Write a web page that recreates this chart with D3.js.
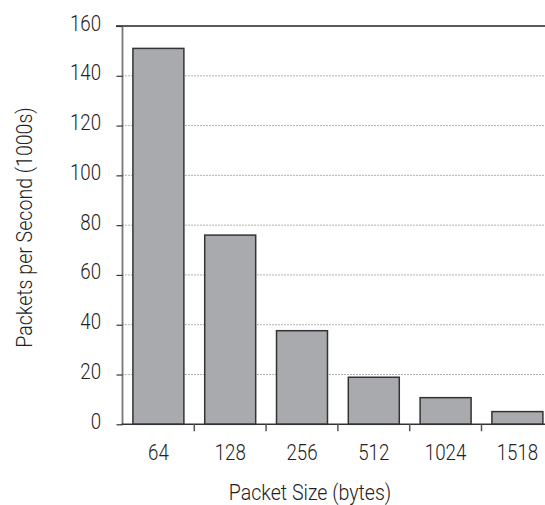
<!DOCTYPE html>
<html>
<head>
<meta charset="utf-8">
<script src="https://cdn.jsdelivr.net/npm/d3@7"></script>
<style>
  html, body { margin: 0; padding: 0; background: #fff; }
  svg { display: block; }
  text { font-family: Roboto, "Liberation Sans", sans-serif; font-weight: 300; fill: #222; }
</style>
</head>
<body>
<svg id="chart" width="545" height="505"></svg>
<script>
const categories = ["64", "128", "256", "512", "1024", "1518"];
const values = [151, 76, 37.6, 18.9, 10.7, 5.1];
const yTicks = [0, 20, 40, 60, 80, 100, 120, 140, 160];
const xTitle = "Packet Size (bytes)";
const yTitle = "Packets per Second (1000s)";

const svg = d3.select("#chart");
const mLeft = 122.5, mRight = 553.3, mTop = 26, mBottom = 424.3;
const SX = 0.87; // horizontal condensing of the font
const numSize = 21.5, titleSize = 22.5;

const x = d3.scaleBand().domain(categories).range([mLeft, mRight]).padding(0);
const xBar = d3.scaleBand().domain(categories).range([mLeft, mRight]).paddingInner(0.29).paddingOuter(0.145);
const y = d3.scaleLinear().domain([0, 160]).range([mBottom, mTop]);

// gridlines (dotted)
svg.append("g").selectAll("line").data(yTicks.filter(d => d > 0 && d < 160)).join("line")
  .attr("x1", mLeft).attr("x2", 545)
  .attr("y1", d => y(d)).attr("y2", d => y(d))
  .attr("stroke", "#666").attr("stroke-width", 1).attr("stroke-dasharray", "1,2");

// top solid line
svg.append("line").attr("x1", 116).attr("x2", 545).attr("y1", y(160)).attr("y2", y(160))
  .attr("stroke", "#222").attr("stroke-width", 1.3);

// y axis
const yAxis = d3.axisLeft(y).tickValues(yTicks).tickSize(6).tickPadding(15).tickFormat(d3.format("d"));
const gy = svg.append("g").attr("transform", `translate(${mLeft},0)`).call(yAxis);
gy.select(".domain").attr("stroke", "#777").attr("stroke-width", 1.8).attr("d", `M0,${mTop}V${mBottom}`);
gy.selectAll(".tick line").attr("stroke", "#333").attr("stroke-width", 1.2);
gy.selectAll(".tick text")
  .attr("x", 0).attr("dy", null).attr("y", 4)
  .attr("transform", `translate(-21.5,0) scale(${SX},1)`)
  .attr("font-size", numSize).attr("font-family", null).attr("fill", "#222");

// bars
svg.append("g").selectAll("rect").data(values).join("rect")
  .attr("x", (d, i) => xBar(categories[i]))
  .attr("width", xBar.bandwidth())
  .attr("y", d => y(d))
  .attr("height", d => mBottom - y(d))
  .attr("fill", "#a9aaad").attr("stroke", "#333").attr("stroke-width", 1.5);

// x axis
const gx = svg.append("g").attr("transform", `translate(0,${mBottom})`);
gx.append("line").attr("x1", mLeft - 1).attr("x2", 545).attr("y1", 0).attr("y2", 0)
  .attr("stroke", "#333").attr("stroke-width", 1.5);
gx.selectAll("line.tk").data(categories.slice(1)).join("line").attr("class", "tk")
  .attr("x1", d => x(d)).attr("x2", d => x(d)).attr("y1", 0).attr("y2", 7)
  .attr("stroke", "#555").attr("stroke-width", 1.5);
gx.selectAll("text").data(categories).join("text")
  .attr("transform", d => `translate(${x(d) + x.bandwidth() / 2},35.7) scale(${SX},1)`)
  .attr("text-anchor", "middle").attr("font-size", numSize).text(d => d);

// titles
svg.append("text").attr("transform", `translate(310,500) scale(${SX},1)`)
  .attr("text-anchor", "middle").attr("font-size", titleSize).text(xTitle);
svg.append("text").attr("transform", `translate(31.7,227.5) rotate(-90) scale(${SX},1)`)
  .attr("text-anchor", "middle").attr("font-size", titleSize).text(yTitle);
</script>
</body>
</html>
